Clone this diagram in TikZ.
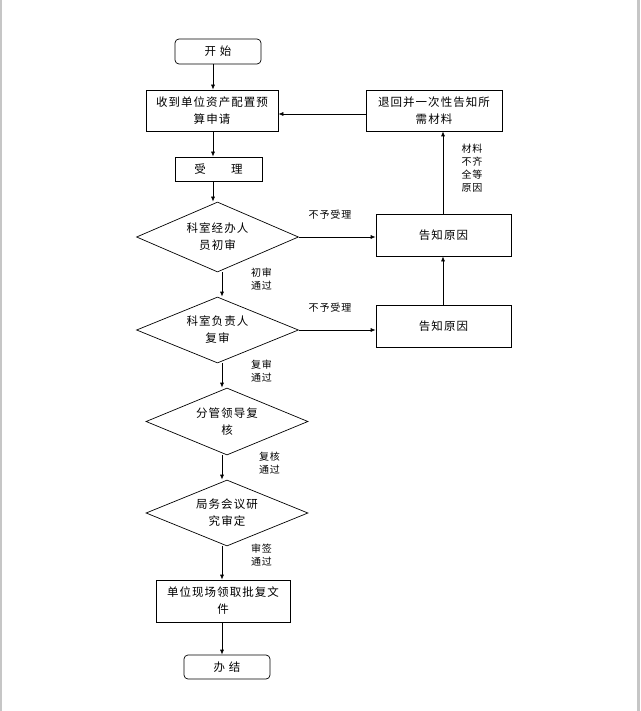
\documentclass[tikz,border=0pt]{standalone}
\usepackage{fontspec}
\setmainfont{Liberation Serif}
\newfontfamily\cjk[LetterSpace=9]{Noto Sans CJK SC}
\usetikzlibrary{shapes.geometric,arrows.meta}
\begin{document}
\begin{tikzpicture}[x=1pt,y=-1pt,
  every node/.style={font=\cjk\fontsize{11.5}{17}\selectfont, align=center, inner sep=0pt},
  box/.style={draw, line width=0.7pt},
  rbox/.style={draw, line width=0.7pt, rounded corners=4pt},
  dia/.style={draw, line width=0.7pt, diamond, aspect=2.3},
  lbl/.style={font=\cjk\fontsize{10}{12.5}\selectfont},
  arr/.style={-{Latex[length=5pt,width=4pt]}, line width=0.7pt}]
\useasboundingbox (0,0) rectangle (640,711);
\fill[gray!45] (0,0) rectangle (2,711);
\fill[gray!45] (637,0) rectangle (640,711);
\coordinate (c1) at (213,0);
\coordinate (c2) at (222,0);
\coordinate (c3) at (443,0);
\coordinate (hy) at (0,114);
% main column
\node[rbox, minimum width=86pt, minimum height=25pt] (start) at (218,51.5) {开\ 始};
\node[box, minimum width=132pt, minimum height=41pt] (recv) at (212,110.5) {收到单位资产配置预\\算申请};
\node[box, minimum width=87pt, minimum height=24pt] (accept) at (218.5,169) {受\hspace{2.2em}理};
\node[dia, minimum width=162pt, minimum height=70pt] (d1) at (217.5,237) {科室经办人\\员初审};
\node[dia, minimum width=162pt, minimum height=66pt] (d2) at (217.5,330) {科室负责人\\复审};
\node[dia, minimum width=162pt, minimum height=67pt] (d3) at (227,421.5) {分管领导复\\核};
\node[dia, minimum width=162pt, minimum height=66pt] (d4) at (227,513) {局务会议研\\究审定};
\node[box, minimum width=134pt, minimum height=42pt] (unit) at (223,601) {单位现场领取批复文\\件};
\node[rbox, minimum width=86pt, minimum height=24pt] (end) at (227,667) {办\ 结};
% right column
\node[box, minimum width=136pt, minimum height=41pt] (ret) at (434,110.5) {退回并一次性告知所\\需材料};
\node[box, minimum width=135pt, minimum height=42pt] (r1) at (443.5,235) {告知原因};
\node[box, minimum width=135pt, minimum height=42pt] (r2) at (443.5,326) {告知原因};
% labels
\node[lbl] (n1) at (330,215) {不予受理};
\node[lbl] (n2) at (330,308) {不予受理};
\node[lbl] (p1) at (261.5,279) {初审\\通过};
\node[lbl] (p2) at (261.5,371) {复审\\通过};
\node[lbl] (p3) at (269.5,463) {复核\\通过};
\node[lbl] (p4) at (261.5,555) {审签\\通过};
\node[lbl, font=\cjk\fontsize{10}{13}\selectfont] (mat) at (472,168) {材料\\不齐\\全等\\原因};
% connectors
\draw[arr] (start.south -| c1) -- (recv.north -| c1);
\draw[arr] (recv.south -| c1) -- (accept.north -| c1);
\draw[arr] (accept.south -| c1) -- (d1.north -| c1);
\draw[arr] (d1.south -| c2) -- (d2.north -| c2);
\draw[arr] (d2.south -| c2) -- (d3.north -| c2);
\draw[arr] (d3.south -| c2) -- (d4.north -| c2);
\draw[arr] (d4.south -| c2) -- (unit.north -| c2);
\draw[arr] (unit.south -| c2) -- (end.north -| c2);
\draw[arr] (d1.east) -- (d1.east -| r1.west);
\draw[arr] (d2.east) -- (d2.east -| r2.west);
\draw[arr] (r2.north -| c3) -- (r1.south -| c3);
\draw[arr] (r1.north -| c3) -- (ret.south -| c3);
\draw[arr] (ret.west |- hy) -- (recv.east |- hy);
\end{tikzpicture}
\end{document}
